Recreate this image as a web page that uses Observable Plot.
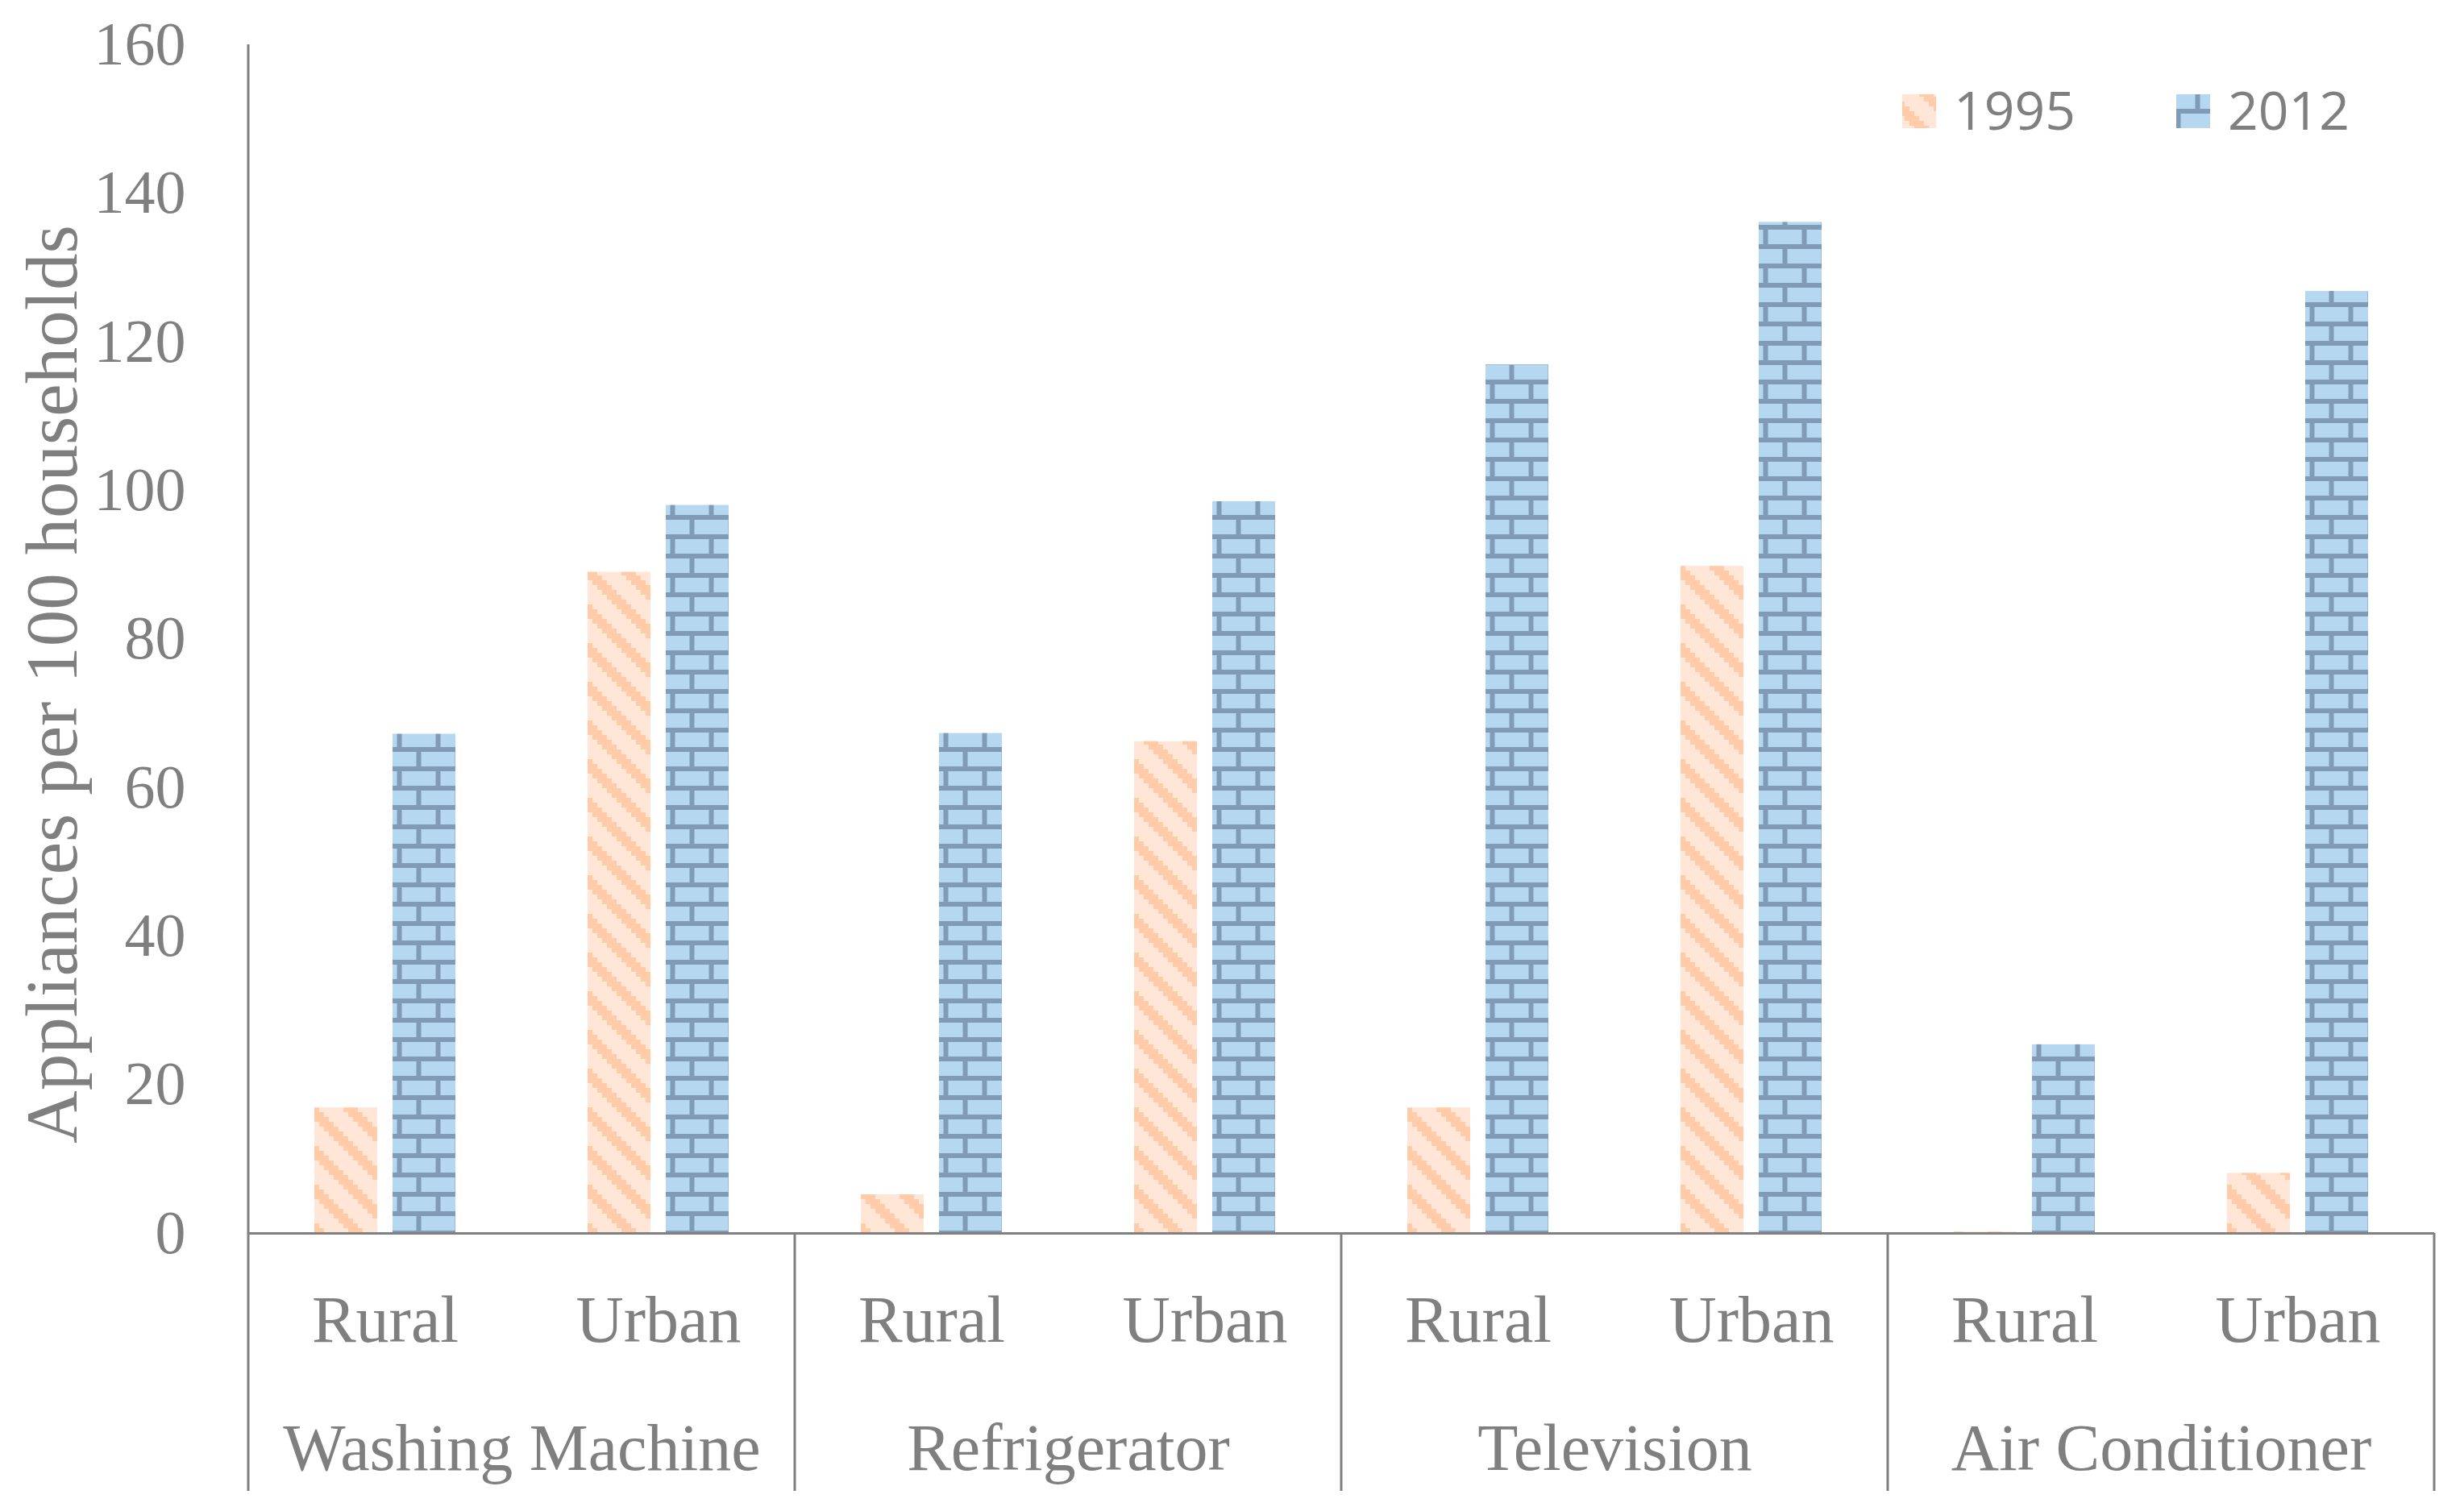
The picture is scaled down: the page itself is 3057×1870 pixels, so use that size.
<!DOCTYPE html>
<html>
<head>
<meta charset="utf-8">
<script src="https://cdn.jsdelivr.net/npm/d3@7"></script>
<script src="https://cdn.jsdelivr.net/npm/@observablehq/plot@0.6"></script>
<style>
html, body { margin: 0; padding: 0; background: #fff; }
#wrap { position: relative; width: 3057px; height: 1870px; overflow: hidden; }
#wrap > svg { position: absolute; left: 0; top: 0; }
</style>
</head>
<body>
<div id="wrap"></div>
<script>
// ---------- data ----------
const appliances = ["Washing Machine", "Refrigerator", "Television", "Air Conditioner"];
const locations = ["Rural", "Urban"];
const years = ["1995", "2012"];
// order: Washing Machine (Rural, Urban), Refrigerator (Rural, Urban), Television (...), Air Conditioner (...)
const values1995 = [16.9, 89.0, 5.2, 66.2, 16.9, 89.8, 0.2, 8.1];
const values2012 = [67.2, 98.0, 67.3, 98.5, 116.9, 136.1, 25.4, 126.8];
const yTicks = [0, 20, 40, 60, 80, 100, 120, 140, 160];
const yTitle = "Appliances per 100 households";

// ---------- table ----------
const slotKeys = [];
const rows = [];
appliances.forEach((a, i) => {
  locations.forEach((l, j) => {
    const key = a + "|" + l;
    slotKeys.push(key);
    rows.push({key, appliance: a, location: l, year: years[0], value: values1995[i * 2 + j]});
    rows.push({key, appliance: a, location: l, year: years[1], value: values2012[i * 2 + j]});
  });
});

const gray = "#7f7f7f";
const lineColor = "#808080";
const W = 3057, H = 1870;

// ---------- patterns ----------
const wrap = d3.select("#wrap");
const defsSvg = wrap.append("svg").attr("width", 0).attr("height", 0);
const defs = defsSvg.append("defs");

// 1995: wide downward diagonal (stepped)
const p1 = defs.append("pattern").attr("id", "p1995")
  .attr("patternUnits", "userSpaceOnUse").attr("width", 48).attr("height", 48);
p1.append("rect").attr("width", 48).attr("height", 48).attr("fill", "#ffe6d6");
for (let k = 0; k < 8; k++) {
  const xs = (11 + 6 * k) % 48;
  p1.append("rect").attr("x", xs).attr("y", 6 * k).attr("width", 18).attr("height", 6).attr("fill", "#ffcba9");
  if (xs + 18 > 48) p1.append("rect").attr("x", xs - 48).attr("y", 6 * k).attr("width", 18).attr("height", 6).attr("fill", "#ffcba9");
}

// 2012: horizontal brick
const p2 = defs.append("pattern").attr("id", "p2012")
  .attr("patternUnits", "userSpaceOnUse").attr("width", 48).attr("height", 48);
const mortar = "#7f9bb6";
p2.append("rect").attr("width", 48).attr("height", 48).attr("fill", "#b5d8f0");
[[0, 15, 48, 6], [0, 39, 48, 6], [35.5, 21, 6, 18], [11.5, 45, 6, 3], [11.5, 0, 6, 15]]
  .forEach(([x, y, w, h]) => p2.append("rect").attr("x", x).attr("y", y).attr("width", w).attr("height", h).attr("fill", mortar));

// ---------- plot ----------
const plot = Plot.plot({
  width: W,
  height: H,
  marginLeft: 307,
  marginRight: 37,
  marginTop: 55,
  marginBottom: 340,
  style: {fontFamily: "'Liberation Serif', 'DejaVu Serif', serif", color: gray, background: "transparent"},
  fx: {domain: slotKeys, padding: 0},
  x: {domain: years, paddingInner: 0.196, paddingOuter: 0.845, axis: null},
  y: {domain: [0, 160]},
  marks: [
    Plot.barY(rows.filter(d => d.year === years[0]), {fx: "key", x: "year", y: "value", fill: "url(#p1995)"}),
    Plot.barY(rows.filter(d => d.year === years[1]), {fx: "key", x: "year", y: "value", fill: "url(#p2012)"}),
    Plot.ruleY([0], {stroke: lineColor, strokeWidth: 3}),
    Plot.axisY({anchor: "left", ticks: yTicks, tickSize: 0, tickPadding: 78, fontSize: 76, fill: gray, label: null}),
    Plot.axisFx({anchor: "bottom", tickSize: 0, tickPadding: 76, fontSize: 82, fill: gray, label: null,
      tickFormat: d => d.split("|")[1]}),
    Plot.text(appliances, {fx: d => d + "|" + locations[0], text: d => d, frameAnchor: "bottom-right",
      textAnchor: "middle", lineAnchor: "top", dy: 235, fontSize: 82, fill: gray}),
    Plot.text([yTitle], {facet: "super", frameAnchor: "left", rotate: -90, lineAnchor: "top",
      textAnchor: "middle", dx: -278, dy: 56, fontSize: 91, fill: gray})
  ]
});
wrap.node().appendChild(plot);

// ---------- axis line and category separators (from the plot's own scales) ----------
const fx = plot.scale("fx");
const ys = plot.scale("y");
const svg = d3.select(plot);
const y0 = ys.apply(0);
const yTop = ys.apply(yTicks[yTicks.length - 1]);
const yBottom = y0 + 320;
const g = svg.append("g").attr("stroke", lineColor).attr("stroke-width", 3);
g.append("line").attr("x1", fx.apply(slotKeys[0])).attr("x2", fx.apply(slotKeys[0]))
  .attr("y1", yTop).attr("y2", yBottom);
const seps = appliances.slice(1).map(a => fx.apply(a + "|" + locations[0]));
seps.push(fx.apply(slotKeys[slotKeys.length - 1]) + fx.bandwidth);
seps.forEach(x => g.append("line").attr("x1", x).attr("x2", x).attr("y1", y0).attr("y2", yBottom));

// ---------- legend ----------
const leg = wrap.append("svg").attr("width", W).attr("height", H).style("pointer-events", "none");
const legendItems = [
  {label: years[0], fill: "url(#p1995)", x: 2360},
  {label: years[1], fill: "url(#p2012)", x: 2700}
];
legendItems.forEach(it => {
  leg.append("rect").attr("x", it.x).attr("y", 117).attr("width", 42).attr("height", 42).attr("fill", it.fill);
  leg.append("text").attr("x", it.x + 64).attr("y", 161)
    .attr("font-family", "'Open Sans', 'Noto Sans', sans-serif").attr("font-size", 66)
    .attr("fill", gray).text(it.label);
});
</script>
</body>
</html>
